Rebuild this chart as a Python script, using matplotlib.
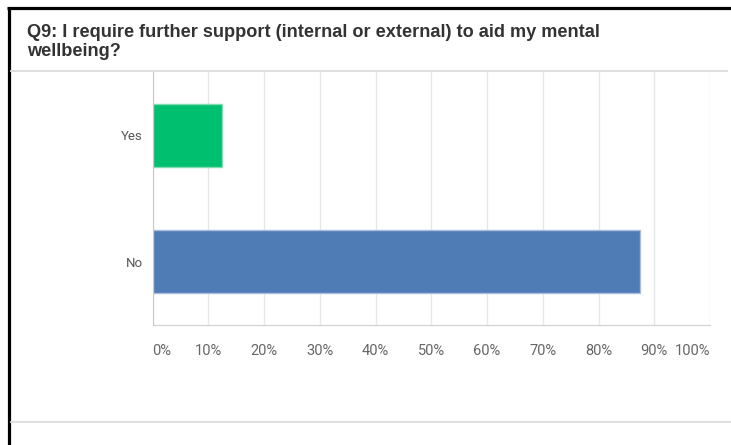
import matplotlib
matplotlib.use("Agg")
import matplotlib.pyplot as plt
from matplotlib.lines import Line2D

title = "Q9: I require further support (internal or external) to aid my mental\nwellbeing?"
answers = ["Yes", "No"]
shares = [12.5, 87.5]
bar_colors = ["#00BF6F", "#507CB6"]
edge_colors = ["#7ddcb0", "#a9bedc"]
ticks = [0, 10, 20, 30, 40, 50, 60, 70, 80, 90, 100]
tick_labels = [f"{t}%" for t in ticks]

W, H = 731, 445
fig = plt.figure(figsize=(W / 100, H / 100), dpi=100)
fig.patch.set_facecolor("white")

# card frame: black top/left edges and light separators
def px_line(x0, x1, y0, y1, color, lw):
    fig.add_artist(Line2D([x0 / W, x1 / W], [1 - y0 / H, 1 - y1 / H],
                          transform=fig.transFigure, color=color, lw=lw,
                          solid_capstyle="butt"))

px_line(7, W, 8, 8, "black", 2.3)
px_line(8.5, 8.5, 7, H, "black", 2.3)
px_line(10, 728, 71, 71, "#d9d9d9", 1.2)
px_line(10, W, 422, 422, "#d9d9d9", 1.2)

# title, one line at a time
for i, line in enumerate(title.split("\n")):
    fig.text(27 / W, 1 - (37 + 19.5 * i) / H, line, fontsize=13.1,
             fontweight="bold", family="Liberation Sans", color="#333333",
             va="baseline")

left, right, top, bottom = 152.5, 710, 72, 325
ax = fig.add_axes([left / W, 1 - bottom / H, (right - left) / W, (bottom - top) / H])

pos = list(range(len(answers)))
ax.barh(pos, shares, height=0.5, color=bar_colors, edgecolor=edge_colors,
        linewidth=1, zorder=3)
ax.set_ylim(len(answers) - 0.5, -0.5)
ax.set_xlim(0, 100)

ax.set_yticks(pos)
ax.set_yticklabels(answers, family="Roboto", fontsize=9.5, color="#555555")
ax.set_xticks(ticks)
ax.set_xticklabels(tick_labels, family="Roboto", fontsize=10.5, color="#666666")
ax.tick_params(axis="y", length=0, pad=7)
ax.tick_params(axis="x", length=0, pad=14)
labels = ax.get_xticklabels()
labels[0].set_ha("left")
labels[-1].set_ha("right")

ax.grid(axis="x", color="#e6e6e6", lw=1, zorder=0)
for s in ["top", "right"]:
    ax.spines[s].set_visible(False)
ax.spines["left"].set_color("#c8c8c8")
ax.spines["bottom"].set_color("#d0d0d0")
ax.spines["left"].set_zorder(4)

fig.savefig("out.png", dpi=100)
